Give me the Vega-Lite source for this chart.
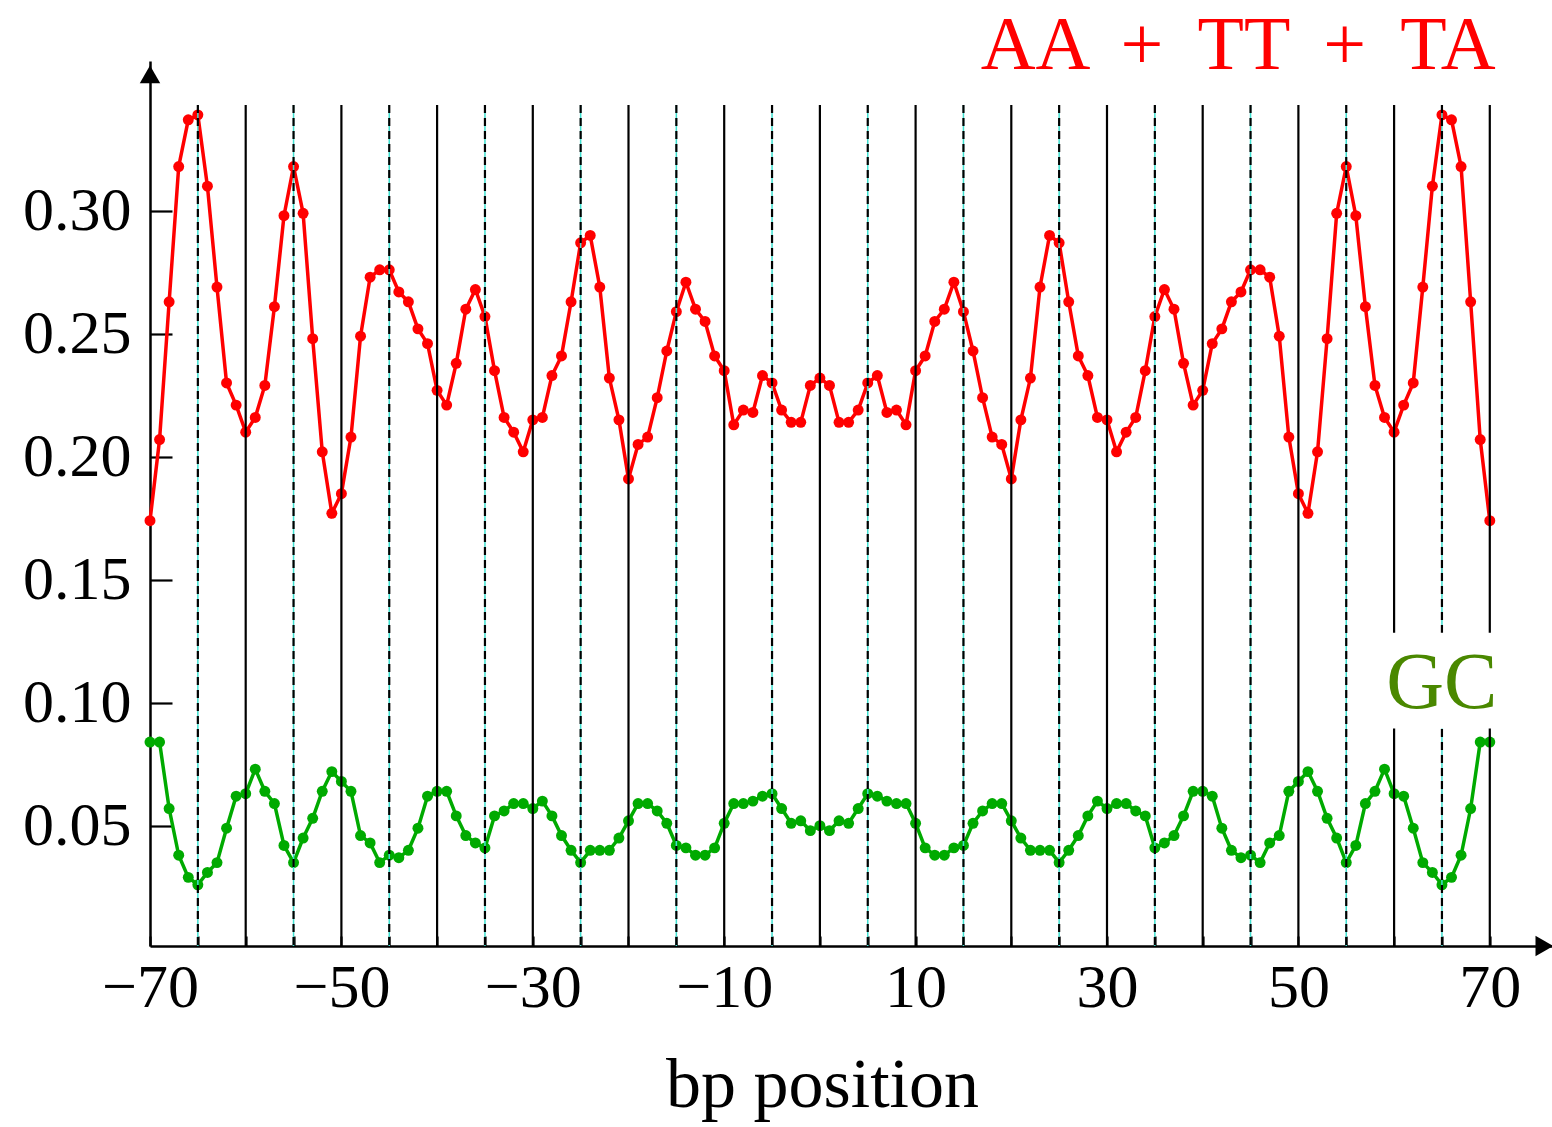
{
  "$schema": "https://vega.github.io/schema/vega-lite/v6.json",
  "autosize": {"type": "none"},
  "padding": {"left": 150, "top": 61, "right": 0, "bottom": 181},
  "width": 1402,
  "height": 885,
  "background": "white",
  "config": {
    "view": {"stroke": null},
    "axis": {"grid": false, "domainColor": "black", "domainWidth": 2.5, "tickColor": "black", "tickWidth": 2.2, "labelColor": "black", "labelFont": "Liberation Serif", "titleFont": "Liberation Serif", "titleColor": "black", "titleFontWeight": "normal"}
  },
  "datasets": {
    "red": [
      {"x":-70,"v":0.174},{"x":-69,"v":0.207},{"x":-68,"v":0.263},{"x":-67,"v":0.318},{"x":-66,"v":0.337},{"x":-65,"v":0.339},{"x":-64,"v":0.310},{"x":-63,"v":0.269},{"x":-62,"v":0.230},{"x":-61,"v":0.221},
      {"x":-60,"v":0.210},{"x":-59,"v":0.216},{"x":-58,"v":0.229},{"x":-57,"v":0.261},{"x":-56,"v":0.298},{"x":-55,"v":0.318},{"x":-54,"v":0.299},{"x":-53,"v":0.248},{"x":-52,"v":0.202},{"x":-51,"v":0.177},
      {"x":-50,"v":0.185},{"x":-49,"v":0.208},{"x":-48,"v":0.249},{"x":-47,"v":0.273},{"x":-46,"v":0.276},{"x":-45,"v":0.276},{"x":-44,"v":0.267},{"x":-43,"v":0.263},{"x":-42,"v":0.252},{"x":-41,"v":0.246},
      {"x":-40,"v":0.227},{"x":-39,"v":0.221},{"x":-38,"v":0.238},{"x":-37,"v":0.260},{"x":-36,"v":0.268},{"x":-35,"v":0.257},{"x":-34,"v":0.235},{"x":-33,"v":0.216},{"x":-32,"v":0.210},{"x":-31,"v":0.202},
      {"x":-30,"v":0.215},{"x":-29,"v":0.216},{"x":-28,"v":0.233},{"x":-27,"v":0.241},{"x":-26,"v":0.263},{"x":-25,"v":0.287},{"x":-24,"v":0.290},{"x":-23,"v":0.269},{"x":-22,"v":0.232},{"x":-21,"v":0.215},
      {"x":-20,"v":0.191},{"x":-19,"v":0.205},{"x":-18,"v":0.208},{"x":-17,"v":0.224},{"x":-16,"v":0.243},{"x":-15,"v":0.259},{"x":-14,"v":0.271},{"x":-13,"v":0.260},{"x":-12,"v":0.255},{"x":-11,"v":0.241},
      {"x":-10,"v":0.235},{"x":-9,"v":0.213},{"x":-8,"v":0.219},{"x":-7,"v":0.218},{"x":-6,"v":0.233},{"x":-5,"v":0.230},{"x":-4,"v":0.219},{"x":-3,"v":0.214},{"x":-2,"v":0.214},{"x":-1,"v":0.229},
      {"x":0,"v":0.232},
      {"x":1,"v":0.229},{"x":2,"v":0.214},{"x":3,"v":0.214},{"x":4,"v":0.219},{"x":5,"v":0.230},{"x":6,"v":0.233},{"x":7,"v":0.218},{"x":8,"v":0.219},{"x":9,"v":0.213},{"x":10,"v":0.235},
      {"x":11,"v":0.241},{"x":12,"v":0.255},{"x":13,"v":0.260},{"x":14,"v":0.271},{"x":15,"v":0.259},{"x":16,"v":0.243},{"x":17,"v":0.224},{"x":18,"v":0.208},{"x":19,"v":0.205},{"x":20,"v":0.191},
      {"x":21,"v":0.215},{"x":22,"v":0.232},{"x":23,"v":0.269},{"x":24,"v":0.290},{"x":25,"v":0.287},{"x":26,"v":0.263},{"x":27,"v":0.241},{"x":28,"v":0.233},{"x":29,"v":0.216},{"x":30,"v":0.215},
      {"x":31,"v":0.202},{"x":32,"v":0.210},{"x":33,"v":0.216},{"x":34,"v":0.235},{"x":35,"v":0.257},{"x":36,"v":0.268},{"x":37,"v":0.260},{"x":38,"v":0.238},{"x":39,"v":0.221},{"x":40,"v":0.227},
      {"x":41,"v":0.246},{"x":42,"v":0.252},{"x":43,"v":0.263},{"x":44,"v":0.267},{"x":45,"v":0.276},{"x":46,"v":0.276},{"x":47,"v":0.273},{"x":48,"v":0.249},{"x":49,"v":0.208},{"x":50,"v":0.185},
      {"x":51,"v":0.177},{"x":52,"v":0.202},{"x":53,"v":0.248},{"x":54,"v":0.299},{"x":55,"v":0.318},{"x":56,"v":0.298},{"x":57,"v":0.261},{"x":58,"v":0.229},{"x":59,"v":0.216},{"x":60,"v":0.210},
      {"x":61,"v":0.221},{"x":62,"v":0.230},{"x":63,"v":0.269},{"x":64,"v":0.310},{"x":65,"v":0.339},{"x":66,"v":0.337},{"x":67,"v":0.318},{"x":68,"v":0.263},{"x":69,"v":0.207},{"x":70,"v":0.174}
    ],
    "green": [
      {"x":-70,"v":0.084},{"x":-69,"v":0.084},{"x":-68,"v":0.057},{"x":-67,"v":0.038},{"x":-66,"v":0.029},{"x":-65,"v":0.026},{"x":-64,"v":0.031},{"x":-63,"v":0.035},{"x":-62,"v":0.049},{"x":-61,"v":0.062},
      {"x":-60,"v":0.063},{"x":-59,"v":0.073},{"x":-58,"v":0.064},{"x":-57,"v":0.059},{"x":-56,"v":0.042},{"x":-55,"v":0.035},{"x":-54,"v":0.045},{"x":-53,"v":0.053},{"x":-52,"v":0.064},{"x":-51,"v":0.072},
      {"x":-50,"v":0.068},{"x":-49,"v":0.064},{"x":-48,"v":0.046},{"x":-47,"v":0.043},{"x":-46,"v":0.035},{"x":-45,"v":0.038},{"x":-44,"v":0.037},{"x":-43,"v":0.040},{"x":-42,"v":0.049},{"x":-41,"v":0.062},
      {"x":-40,"v":0.064},{"x":-39,"v":0.064},{"x":-38,"v":0.054},{"x":-37,"v":0.046},{"x":-36,"v":0.043},{"x":-35,"v":0.041},{"x":-34,"v":0.054},{"x":-33,"v":0.056},{"x":-32,"v":0.059},{"x":-31,"v":0.059},
      {"x":-30,"v":0.057},{"x":-29,"v":0.060},{"x":-28,"v":0.054},{"x":-27,"v":0.046},{"x":-26,"v":0.040},{"x":-25,"v":0.035},{"x":-24,"v":0.040},{"x":-23,"v":0.040},{"x":-22,"v":0.040},{"x":-21,"v":0.045},
      {"x":-20,"v":0.052},{"x":-19,"v":0.059},{"x":-18,"v":0.059},{"x":-17,"v":0.056},{"x":-16,"v":0.051},{"x":-15,"v":0.042},{"x":-14,"v":0.041},{"x":-13,"v":0.038},{"x":-12,"v":0.038},{"x":-11,"v":0.041},
      {"x":-10,"v":0.051},{"x":-9,"v":0.059},{"x":-8,"v":0.059},{"x":-7,"v":0.060},{"x":-6,"v":0.062},{"x":-5,"v":0.063},{"x":-4,"v":0.057},{"x":-3,"v":0.051},{"x":-2,"v":0.052},{"x":-1,"v":0.048},
      {"x":0,"v":0.050},
      {"x":1,"v":0.048},{"x":2,"v":0.052},{"x":3,"v":0.051},{"x":4,"v":0.057},{"x":5,"v":0.063},{"x":6,"v":0.062},{"x":7,"v":0.060},{"x":8,"v":0.059},{"x":9,"v":0.059},{"x":10,"v":0.051},
      {"x":11,"v":0.041},{"x":12,"v":0.038},{"x":13,"v":0.038},{"x":14,"v":0.041},{"x":15,"v":0.042},{"x":16,"v":0.051},{"x":17,"v":0.056},{"x":18,"v":0.059},{"x":19,"v":0.059},{"x":20,"v":0.052},
      {"x":21,"v":0.045},{"x":22,"v":0.040},{"x":23,"v":0.040},{"x":24,"v":0.040},{"x":25,"v":0.035},{"x":26,"v":0.040},{"x":27,"v":0.046},{"x":28,"v":0.054},{"x":29,"v":0.060},{"x":30,"v":0.057},
      {"x":31,"v":0.059},{"x":32,"v":0.059},{"x":33,"v":0.056},{"x":34,"v":0.054},{"x":35,"v":0.041},{"x":36,"v":0.043},{"x":37,"v":0.046},{"x":38,"v":0.054},{"x":39,"v":0.064},{"x":40,"v":0.064},
      {"x":41,"v":0.062},{"x":42,"v":0.049},{"x":43,"v":0.040},{"x":44,"v":0.037},{"x":45,"v":0.038},{"x":46,"v":0.035},{"x":47,"v":0.043},{"x":48,"v":0.046},{"x":49,"v":0.064},{"x":50,"v":0.068},
      {"x":51,"v":0.072},{"x":52,"v":0.064},{"x":53,"v":0.053},{"x":54,"v":0.045},{"x":55,"v":0.035},{"x":56,"v":0.042},{"x":57,"v":0.059},{"x":58,"v":0.064},{"x":59,"v":0.073},{"x":60,"v":0.063},
      {"x":61,"v":0.062},{"x":62,"v":0.049},{"x":63,"v":0.035},{"x":64,"v":0.031},{"x":65,"v":0.026},{"x":66,"v":0.029},{"x":67,"v":0.038},{"x":68,"v":0.057},{"x":69,"v":0.084},{"x":70,"v":0.084}
    ],
    "solid": [{"x":-60},{"x":-50},{"x":-40},{"x":-30},{"x":-20},{"x":-10},{"x":0},{"x":10},{"x":20},{"x":30},{"x":40},{"x":50},{"x":60},{"x":70}],
    "dashed": [{"x":-65},{"x":-55},{"x":-45},{"x":-35},{"x":-25},{"x":-15},{"x":-5},{"x":5},{"x":15},{"x":25},{"x":35},{"x":45},{"x":55},{"x":65}]
  },
  "layer": [
    {
      "data": {"name": "red"},
      "mark": {"type": "line", "color": "#ff0000", "strokeWidth": 3.5, "point": {"filled": true, "size": 120, "color": "#ff0000"}},
      "encoding": {
        "x": {"field": "x", "type": "quantitative", "scale": {"domain": [-70, 76.5], "nice": false, "zero": false},
          "axis": {"values": [-70,-65,-60,-55,-50,-45,-40,-35,-30,-25,-20,-15,-10,-5,0,5,10,15,20,25,30,35,40,45,50,55,60,65,70],
            "labelExpr": "abs(datum.value % 20) == 10 ? datum.label : ''", "tickSize": -10, "labelFontSize": 62, "labelPadding": 21, "labelFlush": false, "labelOverlap": false,
            "title": "bp position", "titleFontSize": 70, "titleX": 672, "titleY": 160, "titleBaseline": "alphabetic", "titleAnchor": "middle", "titleAlign": "center"}},
        "y": {"field": "v", "type": "quantitative", "scale": {"domain": [0.0011, 0.3609], "nice": false, "zero": false},
          "axis": {"values": [0.05, 0.1, 0.15, 0.2, 0.25, 0.3], "format": ".2f", "tickSize": -22, "labelFontSize": 62, "labelPadding": 41, "labelFlush": false, "labelOverlap": false, "title": null}}
      }
    },
    {
      "data": {"name": "green"},
      "mark": {"type": "line", "color": "#00aa00", "strokeWidth": 3.5, "point": {"filled": true, "size": 120, "color": "#00aa00"}},
      "encoding": {
        "x": {"field": "x", "type": "quantitative"},
        "y": {"field": "v", "type": "quantitative"}
      }
    },
    {
      "data": {"name": "dashed"},
      "mark": {"type": "rule", "color": "#40e0d0", "strokeWidth": 1.5},
      "encoding": {"x": {"field": "x", "type": "quantitative"}, "y": {"datum": 0.343}, "y2": {"datum": 0.0011}}
    },
    {
      "data": {"name": "dashed"},
      "mark": {"type": "rule", "color": "black", "strokeWidth": 2.2, "strokeDash": [8, 5]},
      "encoding": {"x": {"field": "x", "type": "quantitative"}, "y": {"datum": 0.343}, "y2": {"datum": 0.0011}}
    },
    {
      "data": {"name": "solid"},
      "mark": {"type": "rule", "color": "black", "strokeWidth": 2.2},
      "encoding": {"x": {"field": "x", "type": "quantitative"}, "y": {"datum": 0.343}, "y2": {"datum": 0.0011}}
    },
    {
      "data": {"values": [{"label": "GC"}]},
      "mark": {"type": "rect", "fill": "white"},
      "encoding": {"x": {"datum": 58.6}, "x2": {"datum": 71.4}, "y": {"datum": 0.0895}, "y2": {"datum": 0.1285}}
    },
    {
      "data": {"values": [{"label": "GC"}]},
      "mark": {"type": "text", "font": "Liberation Serif", "fontSize": 80, "color": "#4a8800", "align": "right", "baseline": "alphabetic"},
      "encoding": {"x": {"datum": 70.8}, "y": {"datum": 0.098}, "text": {"field": "label"}}
    },
    {
      "data": {"values": [{"label": "AA \u2009+ \u2009TT \u2009+ \u2009TA"}]},
      "mark": {"type": "text", "font": "Liberation Serif", "fontSize": 76, "color": "#ff0000", "align": "right", "baseline": "alphabetic"},
      "encoding": {"x": {"datum": 70.6}, "y": {"datum": 0.3575}, "text": {"field": "label"}}
    },
    {
      "data": {"values": [{"label": "arrow"}]},
      "mark": {"type": "point", "shape": "triangle-up", "filled": true, "color": "black", "size": 420, "opacity": 1},
      "encoding": {"x": {"datum": -70}, "y": {"datum": 0.3555}}
    },
    {
      "data": {"values": [{"label": "arrow"}]},
      "mark": {"type": "point", "shape": "triangle-right", "filled": true, "color": "black", "size": 420, "opacity": 1},
      "encoding": {"x": {"datum": 75.7}, "y": {"datum": 0.0011}}
    }
  ]
}
